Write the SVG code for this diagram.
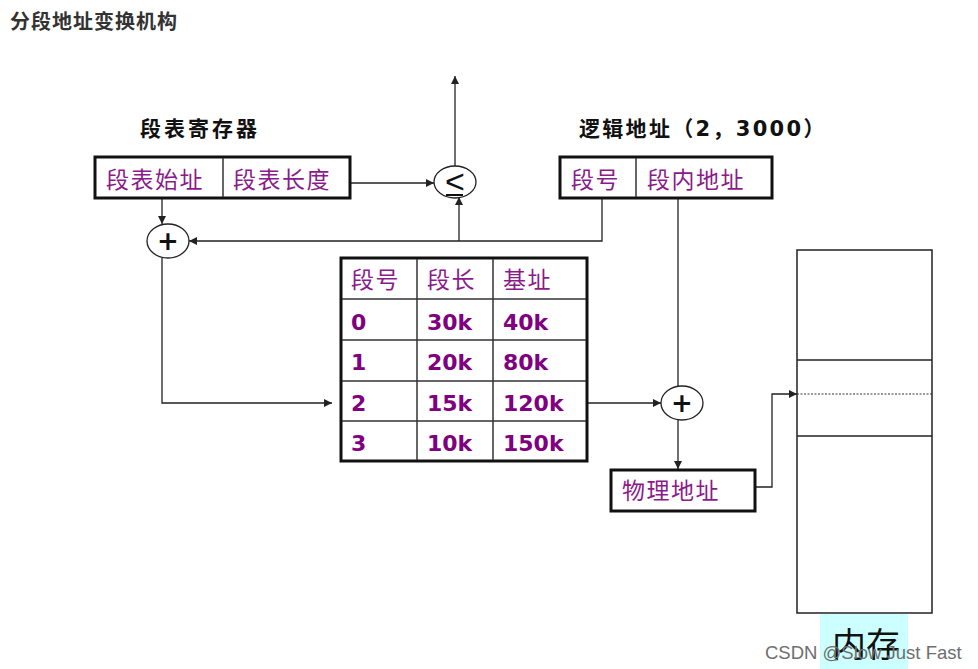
<svg xmlns="http://www.w3.org/2000/svg" width="978" height="669" viewBox="0 0 978 669">
<defs>
<marker id="arr" viewBox="0 0 10 10" refX="10" refY="5" markerWidth="8" markerHeight="8" markerUnits="userSpaceOnUse" orient="auto">
<path d="M0,0 L10,5 L0,10 z" fill="#222"/>
</marker>
<style>
.title{font-family:"Noto Sans CJK SC","Noto Sans",sans-serif;font-weight:bold;fill:#333;font-size:20px;letter-spacing:1px}
.head{font-family:"Noto Sans CJK SC","Noto Sans",sans-serif;font-weight:bold;fill:#111;font-size:21px;letter-spacing:3px}
.cn{font-family:"Noto Sans CJK SC","Noto Sans",sans-serif;fill:#8b1a8b;font-size:23px;letter-spacing:1.5px}
.num{font-family:"DejaVu Sans","Noto Sans",sans-serif;font-weight:bold;fill:#800080;font-size:22px}
.box{fill:#fff;stroke:#111;stroke-width:3}
.div{stroke:#333;stroke-width:1.5}
.conn{fill:none;stroke:#222;stroke-width:1.3}
.op{fill:#fff;stroke:#222;stroke-width:1.3}
.plus{font-family:"DejaVu Sans",sans-serif;font-weight:bold;font-size:26px;fill:#111;text-anchor:middle}
.mem{fill:#fff;stroke:#222;stroke-width:1.5}
</style>
</defs>
<rect width="978" height="669" fill="#fff"/>
<text class="title" x="10" y="29">分段地址变换机构</text>

<g id="connectors">
<path class="conn" d="M162,199 V224" marker-end="url(#arr)"/>
<path class="conn" d="M351,183 H434" marker-end="url(#arr)"/>
<path class="conn" d="M455,167 V76" marker-end="url(#arr)"/>
<path class="conn" d="M602,198 V241 H189" marker-end="url(#arr)"/>
<path class="conn" d="M459,241 V197" marker-end="url(#arr)"/>
<path class="conn" d="M162,258 V403 H332" marker-end="url(#arr)"/>
<path class="conn" d="M587,403 H661" marker-end="url(#arr)"/>
<path class="conn" d="M678,198 V386"/>
<path class="conn" d="M678,420 V469" marker-end="url(#arr)"/>
<path class="conn" d="M756,487 H772 V394 H797" marker-end="url(#arr)"/>
</g>

<g id="reg-label">
<text class="head" x="140" y="136">段表寄存器</text>
</g>
<g id="segment-register">
<rect class="box" x="95" y="157" width="255" height="41"/>
<line class="div" x1="223" y1="158" x2="223" y2="197"/>
<text class="cn" x="106" y="188">段表始址</text>
<text class="cn" x="233" y="188">段表长度</text>
</g>

<g id="logical-label">
<text class="head" x="579" y="136" style="letter-spacing:2.3px">逻辑地址（<tspan font-family="DejaVu Sans, sans-serif">2</tspan>，<tspan font-family="DejaVu Sans, sans-serif">3000</tspan>）</text>
</g>
<g id="logical-address">
<rect class="box" x="560" y="157" width="212" height="41"/>
<line class="div" x1="636" y1="158" x2="636" y2="197"/>
<text class="cn" x="571" y="188">段号</text>
<text class="cn" x="647" y="188">段内地址</text>
</g>

<g id="comparator">
<ellipse class="op" cx="455" cy="182" rx="21" ry="16"/>
<text x="455" y="193" font-family="Liberation Sans, sans-serif" font-size="34" fill="#111" text-anchor="middle">&lt;</text>
<line x1="446" y1="195" x2="463" y2="195" stroke="#111" stroke-width="2"/>
</g>

<g id="adder1">
<ellipse class="op" cx="168" cy="241" rx="21" ry="17"/>
<text class="plus" x="168" y="250">+</text>
</g>

<g id="segment-table">
<rect class="box" x="341" y="258" width="246" height="203"/>
<g class="div">
<line x1="417" y1="259" x2="417" y2="460"/>
<line x1="493" y1="259" x2="493" y2="460"/>
<line x1="342" y1="299" x2="586" y2="299"/>
<line x1="342" y1="340" x2="586" y2="340"/>
<line x1="342" y1="381" x2="586" y2="381"/>
<line x1="342" y1="421" x2="586" y2="421"/>
</g>
<text class="cn" x="351" y="288">段号</text>
<text class="cn" x="427" y="288">段长</text>
<text class="cn" x="503" y="288">基址</text>
<text class="num" x="351" y="330">0</text>
<text class="num" x="427" y="330">30k</text>
<text class="num" x="503" y="330">40k</text>
<text class="num" x="351" y="370">1</text>
<text class="num" x="427" y="370">20k</text>
<text class="num" x="503" y="370">80k</text>
<text class="num" x="351" y="411">2</text>
<text class="num" x="427" y="411">15k</text>
<text class="num" x="503" y="411">120k</text>
<text class="num" x="351" y="451">3</text>
<text class="num" x="427" y="451">10k</text>
<text class="num" x="503" y="451">150k</text>
</g>

<g id="adder2">
<ellipse class="op" cx="682" cy="403" rx="21" ry="17"/>
<text class="plus" x="682" y="412">+</text>
</g>

<g id="physical-address">
<rect class="box" x="611" y="470" width="144" height="41"/>
<text class="cn" x="622" y="499">物理地址</text>
</g>

<g id="memory">
<rect class="mem" x="797" y="250" width="135" height="363"/>
<line x1="797" y1="360" x2="932" y2="360" stroke="#222" stroke-width="1.5"/>
<line x1="797" y1="436" x2="932" y2="436" stroke="#222" stroke-width="1.5"/>
<line x1="797" y1="394" x2="932" y2="394" stroke="#333" stroke-width="1" stroke-dasharray="2,1.5"/>
<rect x="820" y="614" width="88" height="55" fill="#ccffff"/>
<text x="832" y="657" font-family="Noto Sans CJK SC, Noto Sans, sans-serif" font-size="34" fill="#111">内存</text>
</g>

<text x="765" y="659" font-family="Liberation Sans, Arial, sans-serif" font-size="18.5" fill="#6e6e6e">CSDN @Slow Just Fast</text>
</svg>
